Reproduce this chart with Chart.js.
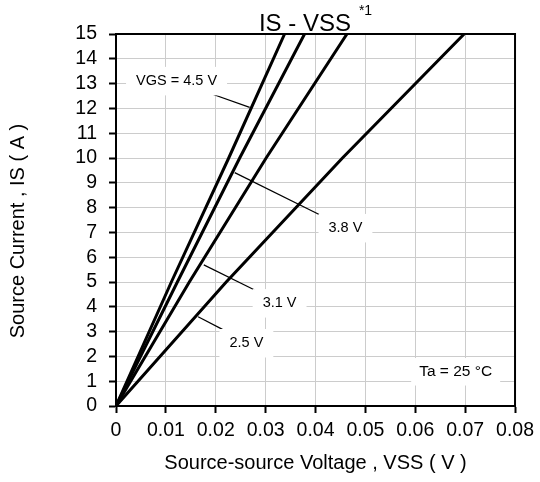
<!DOCTYPE html>
<html>
<head>
<meta charset="utf-8">
<script src="https://cdn.jsdelivr.net/npm/chart.js@4"></script>
<style>
  html, body { margin: 0; padding: 0; background: #fff; }
  #c { display: block; }
</style>
</head>
<body>
<canvas id="c" width="540" height="482"></canvas>
<script>
// ---- Data ----
const IS_A = [0, 5, 10, 15];                       // Source current IS (A)
const VSS_VGS45 = [0, 0.0111, 0.0226, 0.0338];     // VGS = 4.5 V
const VSS_VGS38 = [0, 0.0123, 0.0248, 0.0378];     // VGS = 3.8 V
const VSS_VGS31 = [0, 0.0147, 0.0301, 0.0463];     // VGS = 3.1 V
const VSS_VGS25 = [0, 0.0221, 0.0454, 0.0698];     // VGS = 2.5 V

const X_TICKS = [0, 0.01, 0.02, 0.03, 0.04, 0.05, 0.06, 0.07, 0.08];
const X_TICK_LABELS = ['0', '0.01', '0.02', '0.03', '0.04', '0.05', '0.06', '0.07', '0.08'];
const Y_TICKS = [0, 1, 2, 3, 4, 5, 6, 7, 8, 9, 10, 11, 12, 13, 14, 15];

const SERIES_NAMES = ['VGS = 4.5 V', '3.8 V', '3.1 V', '2.5 V'];
const SERIES_VALUES = [VSS_VGS45, VSS_VGS38, VSS_VGS31, VSS_VGS25];

const TITLE = 'IS - VSS';
const TITLE_SUP = '*1';
const X_TITLE = 'Source-source Voltage , VSS ( V )';
const Y_TITLE = 'Source Current , IS ( A )';
const NOTE = 'Ta = 25 \u00B0C';

// Callout placement (data coordinates)
const CALLOUTS = [
  { text: SERIES_NAMES[0], lx: 0.01214, ly: 13.10, from: [0.0268, 12.04], to: [0.0188, 12.61] },
  { text: SERIES_NAMES[1], lx: 0.0460,  ly: 7.17,  from: [0.0238, 9.41],  to: [0.04094, 7.70] },
  { text: SERIES_NAMES[2], lx: 0.0328,  ly: 4.14,  from: [0.0176, 5.69],  to: [0.0278, 4.68] },
  { text: SERIES_NAMES[3], lx: 0.02614, ly: 2.53,  from: [0.01646, 3.60], to: [0.02134, 3.09] }
];
const NOTE_POS = { x: 0.0681, y: 1.38 };

const FONT = "'Liberation Sans', Arial, Helvetica, sans-serif";
Chart.defaults.font.family = FONT;
Chart.defaults.color = '#000';

const datasets = SERIES_VALUES.map((vals, k) => ({
  label: SERIES_NAMES[k],
  data: IS_A.map((is, i) => ({ x: vals[i], y: is })),
  showLine: true,
  borderColor: '#000',
  borderWidth: 3,
  pointRadius: 0,
  pointHoverRadius: 0,
  fill: false,
  tension: 0
}));

const decor = {
  id: 'decor',
  afterDatasetsDraw(chart) {
    const ctx = chart.ctx;
    const xs = chart.scales.x, ys = chart.scales.y;
    ctx.save();
    // callouts
    CALLOUTS.forEach(c => {
      ctx.beginPath();
      ctx.strokeStyle = '#000';
      ctx.lineWidth = 1.2;
      ctx.moveTo(xs.getPixelForValue(c.from[0]), ys.getPixelForValue(c.from[1]));
      ctx.lineTo(xs.getPixelForValue(c.to[0]), ys.getPixelForValue(c.to[1]));
      ctx.stroke();
    });
    const label = (text, x, y, fs, padX, padY) => {
      ctx.font = fs + 'px ' + FONT;
      const w = ctx.measureText(text).width;
      const px = xs.getPixelForValue(x), py = ys.getPixelForValue(y);
      ctx.fillStyle = '#fff';
      ctx.fillRect(px - w / 2 - padX, py - fs / 2 - padY, w + 2 * padX, fs + 2 * padY);
      ctx.fillStyle = '#000';
      ctx.textAlign = 'center';
      ctx.textBaseline = 'middle';
      ctx.fillText(text, px, py);
    };
    CALLOUTS.forEach(c => label(c.text, c.lx, c.ly, 14.5, 10, 7));
    label(NOTE, NOTE_POS.x, NOTE_POS.y, 15.5, 8, 6);
    ctx.restore();
  },
  afterDraw(chart) {
    const ctx = chart.ctx;
    const a = chart.chartArea;
    ctx.save();
    // frame
    ctx.strokeStyle = '#000';
    ctx.lineWidth = 2;
    ctx.strokeRect(a.left, a.top, a.right - a.left, a.bottom - a.top);
    // title with superscript
    ctx.fillStyle = '#000';
    ctx.textBaseline = 'alphabetic';
    ctx.textAlign = 'left';
    ctx.font = '24px ' + FONT;
    const mw = ctx.measureText(TITLE).width;
    ctx.font = '14px ' + FONT;
    const sw = ctx.measureText(TITLE_SUP).width;
    const gap = 8;
    const cx = (a.left + a.right) / 2;
    const start = cx - (mw + gap + sw) / 2;
    ctx.font = '24px ' + FONT;
    ctx.fillText(TITLE, start, a.top - 3.5);
    ctx.font = '14px ' + FONT;
    ctx.fillText(TITLE_SUP, start + mw + gap, a.top - 19);
    // axis titles
    ctx.font = '20px ' + FONT;
    ctx.textAlign = 'center';
    ctx.textBaseline = 'middle';
    ctx.fillText(X_TITLE, cx, a.bottom + 57);
    ctx.translate(18, (a.top + a.bottom) / 2 + 11);
    ctx.rotate(-Math.PI / 2);
    ctx.fillText(Y_TITLE, 0, 0);
    ctx.restore();
  }
};

new Chart(document.getElementById('c'), {
  type: 'scatter',
  data: { datasets },
  plugins: [decor],
  options: {
    responsive: false,
    animation: false,
    devicePixelRatio: 1,
    layout: { padding: { top: 34, right: 24, left: 0, bottom: 0 } },
    plugins: { legend: { display: false }, title: { display: false }, tooltip: { enabled: false } },
    scales: {
      x: {
        type: 'linear',
        min: 0, max: 0.08,
        afterBuildTicks: s => { s.ticks = X_TICKS.map(v => ({ value: v })); },
        afterFit: s => { s.height = 76; },
        ticks: {
          autoSkip: false, maxRotation: 0, padding: 6,
          font: { size: 19.5 }, color: '#000',
          callback: (v) => { const i = X_TICKS.findIndex(t => Math.abs(t - v) < 1e-9); return i >= 0 ? X_TICK_LABELS[i] : ''; }
        },
        grid: { color: '#cccccc', lineWidth: 1, tickColor: '#000', tickLength: 7, tickWidth: 2, drawTicks: true },
        border: { display: true, color: '#000', width: 2 },
        title: { display: false }
      },
      y: {
        type: 'linear',
        min: 0, max: 15,
        afterBuildTicks: s => { s.ticks = Y_TICKS.map(v => ({ value: v })); },
        afterFit: s => { s.width = 116; },
        ticks: { autoSkip: false, padding: 12, font: { size: 19.5 }, color: '#000', callback: v => String(v) },
        grid: { color: '#cccccc', lineWidth: 1, tickColor: '#000', tickLength: 7, tickWidth: 2, drawTicks: true },
        border: { display: true, color: '#000', width: 2 },
        title: { display: false }
      }
    }
  }
});
</script>
</body>
</html>
